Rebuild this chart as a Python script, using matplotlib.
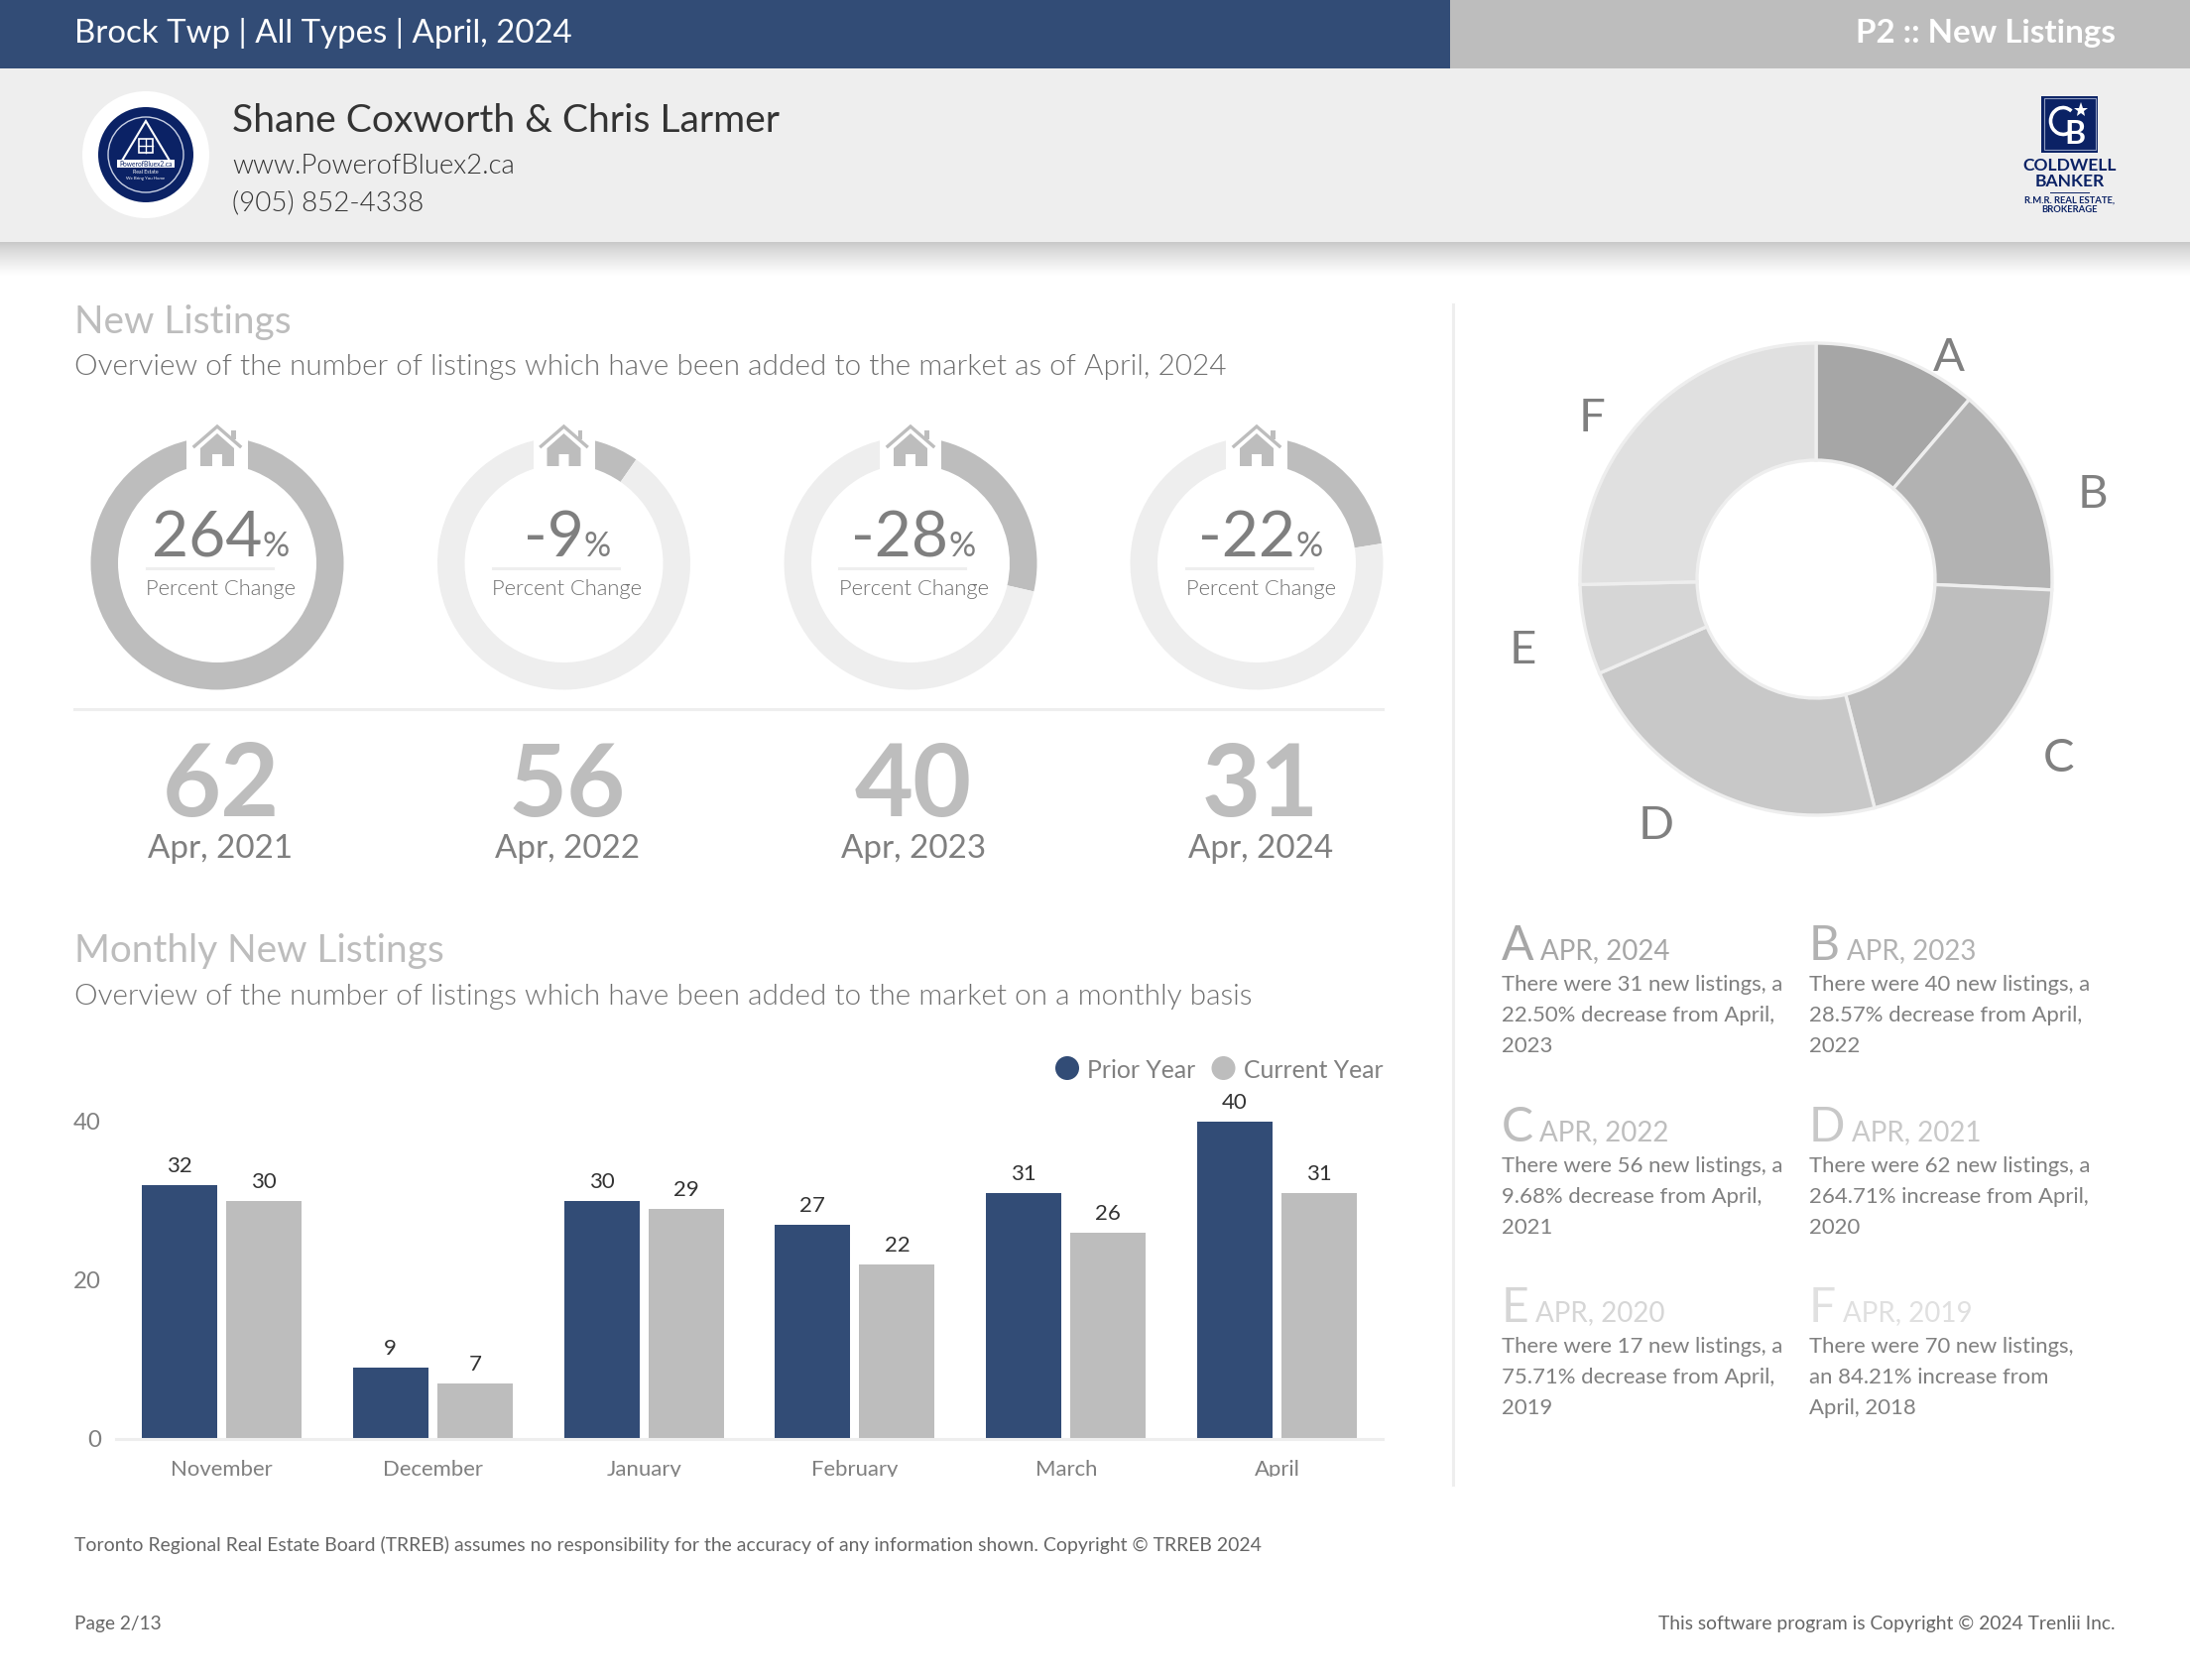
import numpy as np
import matplotlib
matplotlib.use('Agg')
import matplotlib.pyplot as plt
from matplotlib import font_manager
from matplotlib.patches import Rectangle, Circle, Polygon, Arc
from matplotlib.transforms import Bbox

plt.rcParams['font.family'] = ['Lato', 'DejaVu Sans']

W, H = 2208, 1694
NAVY = '#324c76'
GREY = '#bdbdbd'
PALE = '#eeeeee'
TXT = '#808080'

# weight='light' lands on the hairline cut, so pick the file directly
LIGHT_FILE = next((f for f in font_manager.findSystemFonts() if 'Lato-Light.' in f), None)

# data
years = ['Apr, 2021', 'Apr, 2022', 'Apr, 2023', 'Apr, 2024']
counts = [62, 56, 40, 31]
pct_labels = ['264', '-9', '-28', '-22']
pct_exact = [264.71, 9.68, 28.57, 22.50]

months = ['November', 'December', 'January', 'February', 'March', 'April']
prior_year = [32, 9, 30, 27, 31, 40]
current_year = [30, 7, 29, 22, 26, 31]

donut_names = ['A', 'B', 'C', 'D', 'E', 'F']
donut_values = [31, 40, 56, 62, 17, 70]
donut_colors = ['#a6a6a6', '#b2b2b2', '#bebebe', '#c8c8c8', '#d6d6d6', '#e0e0e0']
donut_label_pos = [(1965, 361), (2110, 499), (2076, 765), (1670, 833), (1535, 656), (1605, 422)]

card_titles = ['APR, 2024', 'APR, 2023', 'APR, 2022', 'APR, 2021', 'APR, 2020', 'APR, 2019']
card_lines = [
    ['There were 31 new listings, a', '22.50% decrease from April,', '2023'],
    ['There were 40 new listings, a', '28.57% decrease from April,', '2022'],
    ['There were 56 new listings, a', '9.68% decrease from April,', '2021'],
    ['There were 62 new listings, a', '264.71% increase from April,', '2020'],
    ['There were 17 new listings, a', '75.71% decrease from April,', '2019'],
    ['There were 70 new listings,', 'an 84.21% increase from', 'April, 2018'],
]

fig = plt.figure(figsize=(W / 100, H / 100), dpi=100, facecolor='white')
renderer = fig.canvas.get_renderer()

# page axes in pixel coordinates, y pointing down
page = fig.add_axes([0, 0, 1, 1])
page.set_xlim(0, W)
page.set_ylim(H, 0)
page.axis('off')


def label(x, y, s, px, color=TXT, ha='left', weight='normal'):
    return page.text(x, y, s, fontsize=px * 0.72, color=color, ha=ha, va='baseline', fontweight=weight)


def light(x, y, s, px, color, ha='left'):
    if LIGHT_FILE:
        fp = font_manager.FontProperties(fname=LIGHT_FILE, size=px * 0.72)
        return page.text(x, y, s, fontproperties=fp, color=color, ha=ha, va='baseline')
    return label(x, y, s, px * 0.96, color, ha)


def text_width(t):
    return t.get_window_extent(renderer).width


def sub_axes(cx, cy, half):
    return fig.add_axes([(cx - half) / W, 1 - (cy + half) / H, 2 * half / W, 2 * half / H])


# header
page.add_patch(Rectangle((0, 0), 1462, 69, color=NAVY, lw=0))
page.add_patch(Rectangle((1462, 0), W - 1462, 69, color=GREY, lw=0))
page.add_patch(Rectangle((0, 69), W, 175, color=PALE, lw=0))
shade = np.linspace(0, 1, 40).reshape(-1, 1) ** 0.8
page.imshow(shade, extent=(0, W, 278, 244), cmap='gray', vmin=-3.6, vmax=1, aspect='auto', zorder=1)
page.set_xlim(0, W)
page.set_ylim(H, 0)

label(75, 43, 'Brock Twp | All Types | April, 2024', 33, 'white')
label(2133, 43, 'P2 :: New Listings', 33.2, 'white', ha='right', weight='bold')
label(234, 133, 'Shane Coxworth & Chris Larmer', 39, '#333333')
light(234, 175, 'www.PowerofBluex2.ca', 27.5, '#333333')
light(234, 212, '(905) 852-4338', 27.7, '#333333')

# agent badge
LOGO = '#0b2265'
page.add_patch(Circle((147, 156), 64, color='white', lw=0, zorder=2))
page.add_patch(Circle((147, 156), 48, color=LOGO, lw=0, zorder=3))
page.add_patch(Circle((147, 156), 38, fill=False, ec='#c8d0e4', lw=1, zorder=4))
page.add_patch(Polygon([(147, 122), (120, 167), (174, 167)], closed=True, fill=False, ec='white', lw=1.5, zorder=4))
page.add_patch(Rectangle((140, 140), 14, 14, fill=False, ec='white', lw=1.2, zorder=4))
page.plot([147, 147], [140, 154], color='white', lw=1, zorder=4)
page.plot([140, 154], [147, 147], color='white', lw=1, zorder=4)
page.add_patch(Rectangle((118, 161), 58, 8, color='white', lw=0, zorder=4))
page.text(147, 165, 'PowerofBluex2.ca', fontsize=4.8, color=LOGO, ha='center', va='center', zorder=5)
page.text(147, 173.5, 'Real Estate', fontsize=3.8, color='white', ha='center', va='center', zorder=5)
page.text(147, 180, 'We Bring You Home', fontsize=3.2, color='white', ha='center', va='center', zorder=5)

# brokerage logo
page.add_patch(Rectangle((2058, 97), 57, 57, color=LOGO, lw=0, zorder=2))
page.add_patch(Rectangle((2060.5, 99.5), 52, 52, fill=False, ec='#8f9cc0', lw=0.8, zorder=3))
page.add_patch(Arc((2080, 122), 25, 27, theta1=50, theta2=310, color='white', lw=2.6, zorder=4))
page.text(2092, 145, 'B', fontsize=23, color='white', ha='center', va='baseline', zorder=4, fontweight='bold')
page.plot([2098], [111], marker='*', ms=11, color='white', mew=0, zorder=4)
page.text(2086.5, 172, 'COLDWELL', fontsize=12.6, color=LOGO, ha='center', va='baseline', fontweight='bold')
page.text(2086.5, 188, 'BANKER', fontsize=12.6, color=LOGO, ha='center', va='baseline', fontweight='bold')
page.plot([2067, 2106], [194, 194], color=LOGO, lw=0.7)
page.text(2086.5, 205, 'R.M.R. REAL ESTATE,', fontsize=6.8, color=LOGO, ha='center', va='baseline', fontweight='bold')
page.text(2086.5, 214, 'BROKERAGE', fontsize=6.8, color=LOGO, ha='center', va='baseline', fontweight='bold')

# section headings
label(75, 336, 'New Listings', 38.8, GREY)
light(75, 378, 'Overview of the number of listings which have been added to the market as of April, 2024', 29.7, '#6f6f6f')
label(75, 970, 'Monthly New Listings', 38.8, GREY)
light(75, 1013, 'Overview of the number of listings which have been added to the market on a monthly basis', 29.7, '#6f6f6f')

page.plot([75, 1394], [715, 715], color=PALE, lw=2.2)
page.plot([1464.5, 1464.5], [307, 1497], color=PALE, lw=2.2)

# percent change gauges
ring_x = [219, 568.5, 918, 1267]
text_x = [222.5, 572, 921, 1271]
RING_Y = 568
for i, rx in enumerate(ring_x):
    ax = sub_axes(rx, RING_Y, 134)
    fill = min(pct_exact[i], 100)
    ax.pie([fill, 100 - fill], colors=[GREY, PALE], startangle=90, counterclock=False, radius=127.5,
           wedgeprops=dict(width=27.5, linewidth=0))
    ax.set_xlim(-134, 134)
    ax.set_ylim(-134, 134)
    ax.set_aspect('equal')
    ax.patch.set_alpha(0)

    # house sits in a gap at the top of the ring
    ax.add_patch(Rectangle((-31, 85), 62, 49, color='white', lw=0))
    ax.plot([-23, 0, 23], [118, 138, 118], color=GREY, lw=2.4, solid_joinstyle='miter', clip_on=False)
    ax.add_patch(Polygon([(-17, 116), (0, 131), (17, 116), (17, 98), (5, 98), (5, 110), (-5, 110), (-5, 98), (-17, 98)],
                         closed=True, color=GREY, lw=0))
    ax.add_patch(Rectangle((14, 125), 4.5, 10, color=GREY, lw=0))

    tx = text_x[i]
    num = label(0, 561, pct_labels[i], 64, '#7f7f7f')
    sign = label(0, 561, '%', 34, '#7f7f7f')
    wn, ws = text_width(num), text_width(sign)
    num.set_x(tx - (wn + ws) / 2)
    sign.set_x(tx - (wn + ws) / 2 + wn)
    page.plot([tx - 75, tx + 52], [573, 573], color=PALE, lw=2.2)
    light(tx, 600, 'Percent Change', 22, '#6f6f6f', ha='center')

    label(tx, 823, str(counts[i]), 102, GREY, ha='center', weight='bold')
    label(tx, 865, years[i], 33.2, '#7f7f7f', ha='center')

# monthly bars
BAR_L, BAR_R, BAR_TOP, BAR_BASE = 117, 1394, 1130.5, 1450.5
bx = fig.add_axes([BAR_L / W, 1 - BAR_BASE / H, (BAR_R - BAR_L) / W, (BAR_BASE - BAR_TOP) / H])
pos = np.arange(len(months))
bars_p = bx.bar(pos - 0.2, prior_year, 0.357, color=NAVY)
bars_c = bx.bar(pos + 0.2, current_year, 0.357, color=GREY)
bx.set_xlim(-0.5, 5.5)
bx.set_ylim(0, 40)
bx.patch.set_alpha(0)
for s in ['top', 'right', 'left']:
    bx.spines[s].set_visible(False)
bx.spines['bottom'].set_color(PALE)
bx.spines['bottom'].set_linewidth(2.2)
bx.set_yticks([0, 20, 40])
bx.set_xticks(pos, months)
bx.tick_params(length=0, labelcolor=TXT)
bx.tick_params(axis='y', pad=11, labelsize=24 * 0.72)
bx.tick_params(axis='x', pad=15.6, labelsize=22.2 * 0.72)
# month names are cut off just below the baseline in the source
cut = Bbox.from_extents(0, H - 1489, W, H)
for t in bx.get_xticklabels():
    t.set_clip_box(cut)
    t.set_clip_on(True)
for group in (bars_p, bars_c):
    for b in group:
        bx.annotate(f'{b.get_height():.0f}', (b.get_x() + b.get_width() / 2, b.get_height()),
                    xytext=(0, 9.2), textcoords='offset points', ha='center', va='baseline',
                    fontsize=16, color='#333333', annotation_clip=False)

# legend
page.add_patch(Circle((1076, 1077), 12, color=NAVY, lw=0))
page.add_patch(Circle((1233.5, 1077), 12, color=GREY, lw=0))
label(1096, 1087, 'Prior Year', 24.8, TXT)
label(1254, 1087, 'Current Year', 24.8, TXT)

# share donut
dx = sub_axes(1831, 584, 246)
dx.pie(donut_values, colors=donut_colors, startangle=90, counterclock=False, radius=238,
       wedgeprops=dict(width=118, edgecolor=PALE, linewidth=2.4))
dx.set_xlim(-246, 246)
dx.set_ylim(-246, 246)
dx.set_aspect('equal')
dx.patch.set_alpha(0)
for name, (lx, ly) in zip(donut_names, donut_label_pos):
    page.text(lx, ly, name, fontsize=34, color=TXT, ha='center', va='center')

# notes under the donut
col_x = [1514, 1824]
row_y = [968, 1151, 1333]
for i, title in enumerate(card_titles):
    cx, cy = col_x[i % 2], row_y[i // 2]
    big = label(cx, cy, donut_names[i], 48, donut_colors[i])
    label(cx + text_width(big) + 6.5, cy - 1, title, 27.8, donut_colors[i])
    for j, line in enumerate(card_lines[i]):
        label(cx, cy + 31 + 31 * j, line, 22.2, TXT)

# footer
label(75, 1564, 'Toronto Regional Real Estate Board (TRREB) assumes no responsibility for the accuracy of any information shown. Copyright © TRREB 2024', 19.35, '#666666')
label(75, 1643, 'Page 2/13', 19.2, '#666666')
label(2133, 1643, 'This software program is Copyright © 2024 Trenlii Inc.', 19.3, '#666666', ha='right')

fig.savefig('out.png', dpi=100, facecolor='white')
